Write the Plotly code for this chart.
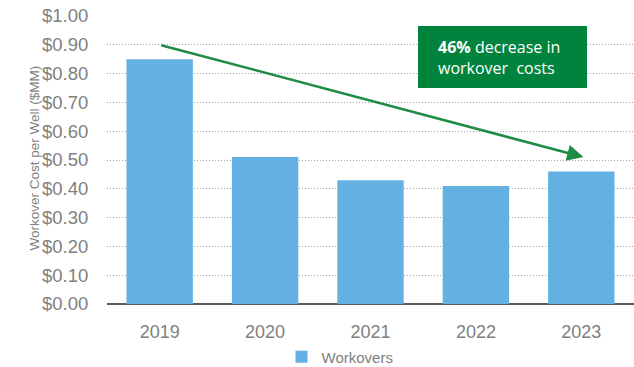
import plotly.graph_objects as go

years = ["2019", "2020", "2021", "2022", "2023"]
workover_cost = [0.85, 0.51, 0.43, 0.41, 0.46]
y_ticks = [0.0, 0.1, 0.2, 0.3, 0.4, 0.5, 0.6, 0.7, 0.8, 0.9, 1.0]
y_tick_text = [f"${v:.2f}" for v in y_ticks]

# Trend arrow endpoints: (category index, value)
arrow_start = (0, 0.90)
arrow_end = (4.02, 0.51)

W, H = 634, 367
L, R, T, B = 107, 0, 16, 63
pw, ph = W - L - R, H - T - B

def px_x(x):
    return (x - L) / pw

def px_y(y):
    return (H - B - y) / ph

grey = "#808080"
green = "#00843D"

fig = go.Figure()
fig.add_trace(go.Bar(
    x=years, y=workover_cost, name="Workovers",
    marker=dict(color="#63B0E3", line=dict(width=0)),
    width=0.63, showlegend=True,
))

fig.update_layout(
    width=W, height=H,
    margin=dict(l=L, r=R, t=T, b=B, autoexpand=False),
    paper_bgcolor="white", plot_bgcolor="white",
    font=dict(family="Liberation Sans, Arial, sans-serif", color=grey),
    showlegend=True,
    legend=dict(orientation="h", x=px_x(340), xanchor="center",
                y=px_y(357), yanchor="middle",
                font=dict(size=15, color=grey), itemwidth=30,
                tracegroupgap=0),
)

fig.update_xaxes(
    type="category", range=[-0.5, 4.5], automargin=False,
    showgrid=False, showline=False, zeroline=False,
    ticks="outside", ticklen=11, tickcolor="rgba(0,0,0,0)",
    tickfont=dict(size=18, color=grey),
)
fig.update_yaxes(
    range=[0, 1.0], tickvals=y_ticks, ticktext=y_tick_text, automargin=False,
    showgrid=True, gridcolor="#A6A6A6", griddash="1px,2px", gridwidth=1,
    zeroline=True, zerolinecolor="#595959", zerolinewidth=2,
    showline=False, ticks="outside", ticklen=14, tickcolor="rgba(0,0,0,0)",
    tickfont=dict(size=18.5, color=grey),
)

# Axis title
fig.add_annotation(
    text="Workover Cost per Well ($MM)", textangle=-90,
    xref="paper", yref="paper", x=px_x(24), y=px_y(158),
    showarrow=False, font=dict(size=13.5, color=grey),
)

# Trend arrow
fig.add_annotation(
    x=arrow_end[0], y=arrow_end[1], ax=arrow_start[0], ay=arrow_start[1],
    xref="x", yref="y", axref="x", ayref="y",
    showarrow=True, arrowhead=2, arrowsize=1.3, arrowwidth=2.5,
    arrowcolor="#1E8C45", standoff=0, text="",
)

# Callout box
fig.add_shape(
    type="rect", xref="paper", yref="paper",
    x0=px_x(418), x1=px_x(587), y0=px_y(88), y1=px_y(26),
    fillcolor=green, line=dict(width=0), layer="above",
)
callout_font = dict(size=16, color="white", family="Open Sans, Noto Sans, sans-serif")
fig.add_annotation(
    text="<b>46%</b> decrease in",
    xref="paper", yref="paper", x=px_x(436), y=px_y(47),
    xanchor="left", yanchor="middle", align="left", showarrow=False,
    font=callout_font,
)
fig.add_annotation(
    text="workover  costs",
    xref="paper", yref="paper", x=px_x(436), y=px_y(68),
    xanchor="left", yanchor="middle", align="left", showarrow=False,
    font=callout_font,
)

fig.write_html("out.html")
